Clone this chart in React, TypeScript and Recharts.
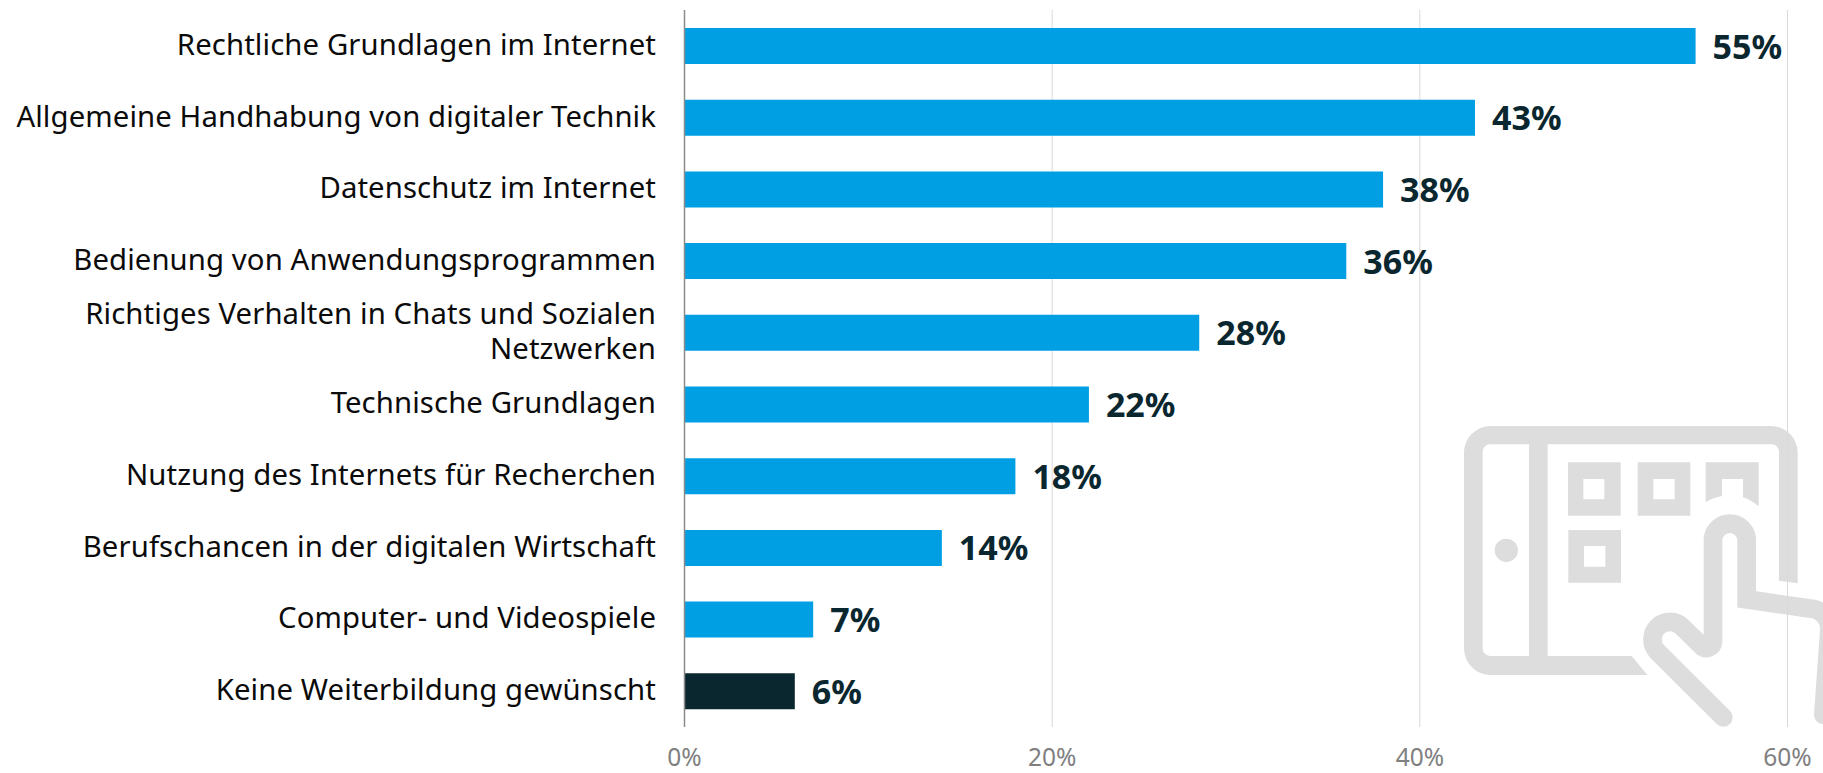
import React from 'react';
import { BarChart, Bar, XAxis, YAxis, CartesianGrid, Cell, LabelList } from 'recharts';

const CATEGORIES = [
  'Rechtliche Grundlagen im Internet',
  'Allgemeine Handhabung von digitaler Technik',
  'Datenschutz im Internet',
  'Bedienung von Anwendungsprogrammen',
  'Richtiges Verhalten in Chats und Sozialen\nNetzwerken',
  'Technische Grundlagen',
  'Nutzung des Internets für Recherchen',
  'Berufschancen in der digitalen Wirtschaft',
  'Computer- und Videospiele',
  'Keine Weiterbildung gewünscht',
];
const VALUES = [55, 43, 38, 36, 28, 22, 18, 14, 7, 6];
const BAR_COLORS = ['#009fe3', '#009fe3', '#009fe3', '#009fe3', '#009fe3', '#009fe3', '#009fe3', '#009fe3', '#009fe3', '#0a2730'];
const X_TICKS = [0, 20, 40, 60];

const FONT = '"Noto Sans", sans-serif';
const DARK = '#0a2730';
const data = CATEGORIES.map((name, i) => ({ name, value: VALUES[i] }));

const CategoryTick = (props: any) => {
  const { x, y, payload } = props;
  const lines: string[] = payload.value.split('\n');
  const top = y + 9 - ((lines.length - 1) * 35) / 2;
  return (
    <text x={x} y={top} textAnchor="end" fontFamily={FONT} fontSize={29.3} letterSpacing={0.1} fill="#0b0b0b">
      {lines.map((line, i) => (
        <tspan key={i} x={x} y={top + i * 35}>{line}</tspan>
      ))}
    </text>
  );
};

const ValueLabel = (props: any) => {
  const { x, y, width, height, value } = props;
  return (
    <text x={x + width + 17} y={y + height / 2 + 12.5} fontFamily={FONT} fontSize={34} fontWeight={700} fill={DARK}>
      {value}%
    </text>
  );
};

// decorative tablet icon behind the plot, in the crop's own units
const TabletIcon = () => (
  <svg
    width={383}
    height={363}
    viewBox="0 0 1149 1089"
    style={{ position: 'absolute', left: 1440, top: 410 }}
  >
    <g fill="#dddddd" fillRule="evenodd">
      <path d="M1017 512 L1073 520 V128 A80 80 0 0 0 993 48 H152 A80 80 0 0 0 72 128 V715 A80 80 0 0 0 152 795 H622 L575 738 H150 A22 22 0 0 1 128 716 V125 A22 22 0 0 1 150 103 H995 A22 22 0 0 1 1017 125 Z" />
      <rect x={267} y={75} width={56} height={692} />
      <circle cx={199} cy={421} r={35} />
      <path d="M384 157 H542 V317 H384 Z M430 207 V268 H493 V207 Z" />
      <path d="M593 157 H751 V317 H593 Z M640 207 V268 H704 V207 Z" />
      <path d="M385 360 H543 V518 H385 Z M432 408 V470 H496 V408 Z" />
      <path d="M797 157 H956 V289 Q930 268 909 262 V207 H846 V258 Q820 262 797 277 Z" />
    </g>
    <path
      d="M850 922 L652 725 A52 52 0 0 1 728 652 L785 708 A20 20 0 0 0 819 695 V385 A51 51 0 0 1 920 385 V568 L1105 595 A62 62 0 0 1 1168 660 L1150 915"
      fill="none"
      stroke="#dddddd"
      strokeWidth={56}
      strokeLinecap="round"
      strokeLinejoin="miter"
    />
  </svg>
);

export default function App() {
  return (
    <div style={{ position: 'absolute', left: 0, top: 0, width: 1823, height: 773, background: '#fff', overflow: 'hidden' }}>
      <TabletIcon />
      <div style={{ position: 'absolute', left: 0, top: 0 }}>
        <BarChart
          width={1823}
          height={773}
          data={data}
          layout="vertical"
          barCategoryGap={36}
          margin={{ top: 10, right: 35.5, bottom: 0, left: 0 }}
        >
          <CartesianGrid horizontal={false} stroke="#d9d9d9" strokeWidth={1} />
          <XAxis
            type="number"
            domain={[0, 60]}
            ticks={X_TICKS}
            height={46}
            axisLine={false}
            tickLine={false}
            tickFormatter={(v) => `${v}%`}
            tick={{ fill: '#808080', fontSize: 24.5, fontFamily: FONT, dy: 14 }}
          />
          <YAxis
            type="category"
            dataKey="name"
            width={684.5}
            axisLine={{ stroke: '#8a8a8a', strokeWidth: 1.5 }}
            tickLine={false}
            interval={0}
            tickMargin={22.5}
            tick={<CategoryTick />}
          />
          <Bar dataKey="value" barSize={36} isAnimationActive={false}>
            {data.map((d, i) => (
              <Cell key={d.name} fill={BAR_COLORS[i]} />
            ))}
            <LabelList dataKey="value" content={<ValueLabel />} />
          </Bar>
        </BarChart>
      </div>
    </div>
  );
}
